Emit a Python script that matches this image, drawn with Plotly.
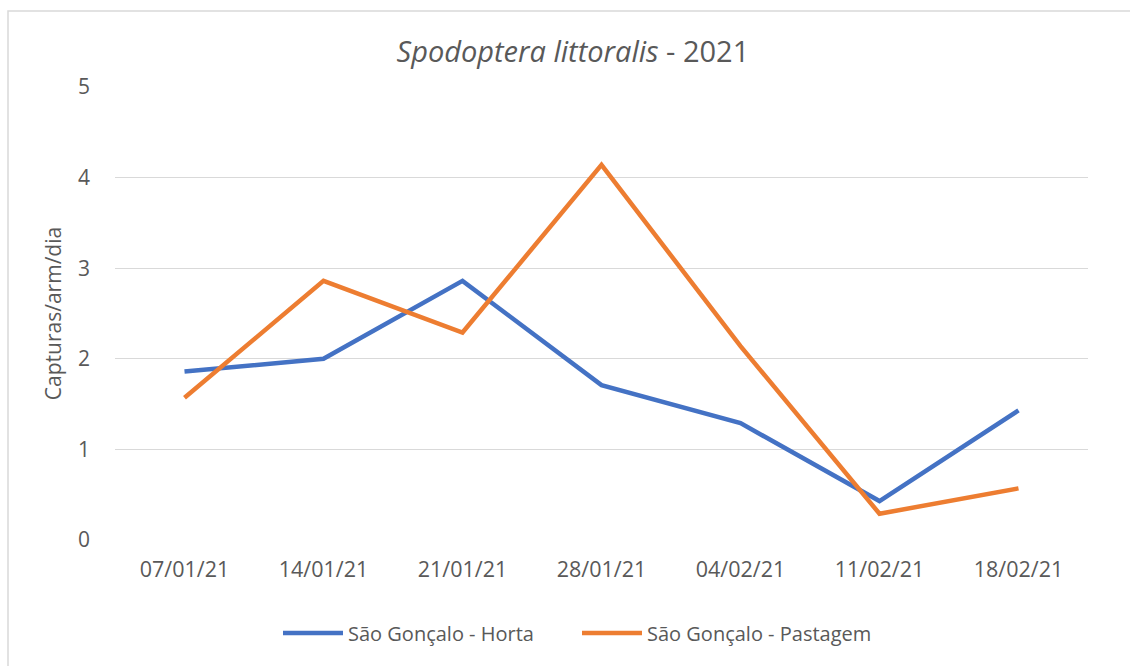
import plotly.graph_objects as go

dates = ["07/01/21", "14/01/21", "21/01/21", "28/01/21", "04/02/21", "11/02/21", "18/02/21"]
horta = [1.86, 2.00, 2.86, 1.71, 1.29, 0.43, 1.43]
pastagem = [1.57, 2.86, 2.29, 4.14, 2.14, 0.29, 0.57]
series_names = ["São Gonçalo - Horta", "São Gonçalo - Pastagem"]
y_ticks = [0, 1, 2, 3, 4, 5]

FONT = "Open Sans"
TXT = "#595959"

fig = go.Figure()
fig.add_trace(go.Scatter(x=dates, y=horta, mode="lines", name=series_names[0],
                         line=dict(color="#4472C4", width=4.5)))
fig.add_trace(go.Scatter(x=dates, y=pastagem, mode="lines", name=series_names[1],
                         line=dict(color="#ED7D31", width=4.5)))

fig.update_layout(
    width=1130, height=666,
    margin=dict(l=115, r=42, t=87, b=126),
    paper_bgcolor="white", plot_bgcolor="white",
    font=dict(family=FONT, color=TXT, size=17),
    title=dict(text="<i>Spodoptera littoralis</i> - 2021", x=0.507, xanchor="center",
               y=1 - 52/666, yanchor="middle", font=dict(size=29, color=TXT, family=FONT)),
    xaxis=dict(type="category", range=[-0.5, 6.5], showgrid=False, zeroline=False,
               showline=False, ticks="", tickfont=dict(size=21.5, color=TXT), ticklabelstandoff=14),
    yaxis=dict(range=[0, 5], tickvals=y_ticks, showgrid=True, gridcolor="#D9D9D9", gridwidth=1.3,
               zeroline=False, showline=False, ticks="", tickfont=dict(size=21, color=TXT),
               ticklabelstandoff=24,
               title=dict(text="Capturas/arm/dia", font=dict(size=21, color=TXT), standoff=10)),
    legend=dict(orientation="h", x=(278-115)/973, xanchor="left", y=-(633-540)/453, yanchor="middle",
                font=dict(size=20, color=TXT), itemwidth=60, tracegroupgap=0,
                entrywidth=224, entrywidthmode="pixels"),
    showlegend=True,
)
fig.add_shape(type="rect", xref="paper", yref="paper",
              x0=(8-115)/973, x1=(1140-115)/973, y0=(540-680)/453, y1=(540-11)/453,
              line=dict(color="#D9D9D9", width=1.5), fillcolor="rgba(0,0,0,0)", layer="below")

fig.write_html("out.html", config={"displayModeBar": False})
with open("out.html", "r", encoding="utf-8") as f:
    html = f.read()
html = html.replace("<body>", '<body style="margin:0;padding:0;">', 1)
with open("out.html", "w", encoding="utf-8") as f:
    f.write(html)
